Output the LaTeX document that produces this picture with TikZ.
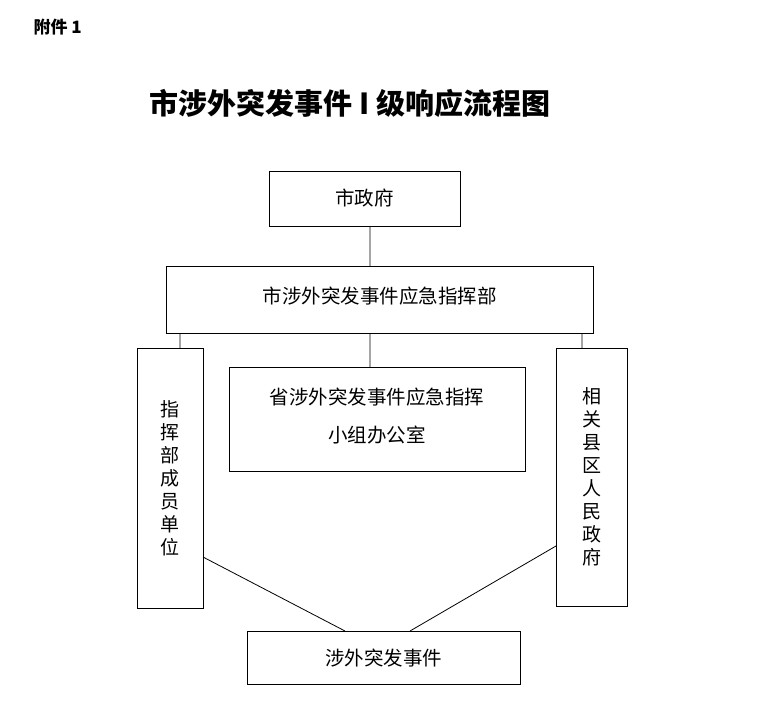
\documentclass[tikz,border=0pt]{standalone}
\usepackage{fontspec}
\setmainfont{Noto Sans CJK SC}
\begin{document}
\begin{tikzpicture}[x=1pt,y=-1pt,
  bx/.style={draw,line width=0.8pt},
  tx/.style={font=\fontsize{19.5}{22}\selectfont},
  vt/.style={font=\fontsize{19}{23}\selectfont,align=center}]
\useasboundingbox (0,0) rectangle (779,702);
\node[anchor=west,font=\bfseries\fontsize{17}{19}\selectfont] (att) at (30,27) {附件 1};
\node[font=\bfseries\fontsize{29}{32}\selectfont] (title) at (350,103) {市涉外突发事件 I 级响应流程图};
\draw[bx] (269,171) rectangle (460,226);
\node[tx] (govt) at (364.5,198) {市政府};
\draw[bx] (166,266) rectangle (593,333);
\node[tx] (cmd) at (379.5,296) {市涉外突发事件应急指挥部};
\draw[bx] (229,367) rectangle (525,471);
\node[tx,align=center] (prov) at (377,416) {省涉外突发事件应急指挥\\[16pt]小组办公室};
\draw[bx] (137,348) rectangle (203,608);
\node[vt] (mem) at (170,478) {指\\挥\\部\\成\\员\\单\\位};
\draw[bx] (556,348) rectangle (627,606);
\node[vt] (cty) at (591.5,477) {相\\关\\县\\区\\人\\民\\政\\府};
\draw[bx] (247,631) rectangle (520,684);
\node[tx] (evt) at (383.5,658) {涉外突发事件};
\coordinate (a1) at (370,226); \coordinate (a2) at (370,266);
\coordinate (b1) at (370,333); \coordinate (b2) at (370,367);
\coordinate (c1) at (180,333); \coordinate (c2) at (180,348);
\coordinate (d1) at (582,333); \coordinate (d2) at (582,348);
\coordinate (e1) at (203,557); \coordinate (e2) at (345,631);
\coordinate (f1) at (556,546); \coordinate (f2) at (410,631);
\draw[line width=0.8pt] (a1)--(a2) (b1)--(b2) (c1)--(c2) (d1)--(d2) (e1)--(e2) (f1)--(f2);
\end{tikzpicture}
\end{document}
